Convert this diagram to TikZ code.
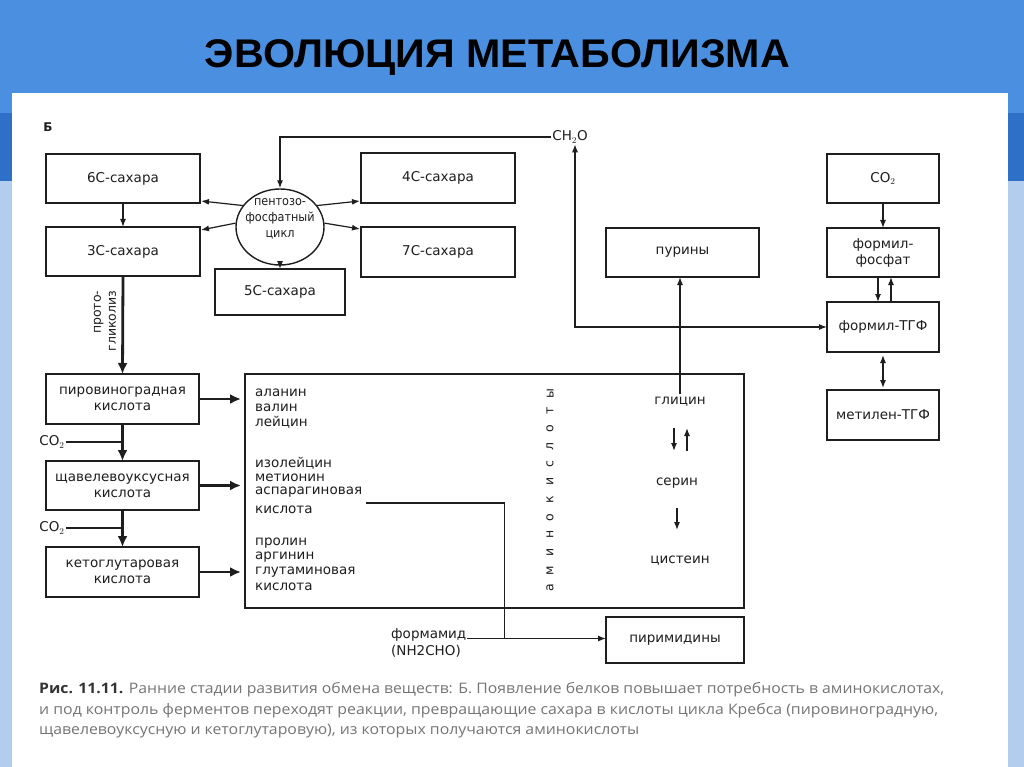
\documentclass[tikz,border=0pt]{standalone}
\usepackage{fontspec}
\usepackage{graphicx}
\setmainfont{DejaVu Sans}
\newfontfamily\condfont[FakeStretch=0.9]{DejaVu Sans}
\newfontfamily\titlefont{Liberation Sans}
\newfontfamily\capfont{Open Sans}
\usetikzlibrary{arrows.meta,shapes.geometric,calc}
\definecolor{band}{HTML}{4A8FE0}
\definecolor{banddark}{HTML}{2E6FC8}
\definecolor{bandlight}{HTML}{B3CDEE}
\definecolor{ink}{HTML}{1E1E1E}
\definecolor{captxt}{HTML}{757575}
\definecolor{capdark}{HTML}{333333}
\newcommand{\lbl}{\fontsize{13.5}{16}\selectfont}
\begin{document}
\begin{tikzpicture}[x=1pt,y=-1pt,
  box/.style={draw=ink,line width=1.4pt,inner sep=0pt,outer sep=0pt,font=\lbl,text=ink,align=center},
  lst/.style={anchor=west,inner sep=0pt,font=\lbl,text=ink},
  txt/.style={inner sep=1pt,font=\lbl,text=ink,align=center},
  arr/.style={draw=ink,line width=1.2pt,-{Latex[length=8pt,width=6pt]}},
  darr/.style={draw=ink,line width=1.2pt,{Latex[length=8pt,width=6pt]}-{Latex[length=8pt,width=6pt]}},
  thk/.style={draw=ink,line width=2.8pt,-{Latex[length=11pt,width=10pt]}},
  thkline/.style={draw=ink,line width=2.8pt}]
\useasboundingbox (0,0) rectangle (1024,767);
% background
\fill[bandlight] (0,0) rectangle (1024,767);
\fill[banddark] (0,113) rectangle (1024,181);
\fill[band] (0,0) rectangle (1024,113);
\fill[white] (12,93) rectangle (1008,767);
% title
\node[inner sep=0pt,font=\titlefont\bfseries\fontsize{40}{40}\selectfont] (title) at (497.5,58) {\resizebox{585pt}{\height}{ЭВОЛЮЦИЯ МЕТАБОЛИЗМА}};
\node[txt,font=\fontsize{12}{14}\selectfont\bfseries] (B) at (48,127) {Б};
% sugars
\node[box,minimum width=154,minimum height=49] (b6) at (123,178.5) {6С-сахара};
\node[box,minimum width=154,minimum height=49] (b3) at (123,251.5) {3С-сахара};
\node[box,minimum width=154,minimum height=50] (b4) at (438,178) {4С-сахара};
\node[box,minimum width=154,minimum height=50] (b7) at (438,252) {7С-сахара};
\node[box,minimum width=130,minimum height=46] (b5) at (280,292) {5С-сахара};
\node[draw=ink,line width=1.4pt,ellipse,minimum width=88,minimum height=76,inner sep=0pt] (ell) at (280,227) {};
\node[txt,font=\condfont\fontsize{12.5}{16}\selectfont] (ellt) at (280,218.5) {пентозо-\\фосфатный\\цикл};
\node[txt] (ch2o) at (570,137) {CH$_2$O};
% right column
\node[box,minimum width=112,minimum height=49] (co2r) at (883,178.5) {CO$_2$};
\node[box,minimum width=112,minimum height=49] (ff) at (883,252.5) {формил-\\фосфат};
\node[box,minimum width=112,minimum height=50] (ftgf) at (883,327) {формил-ТГФ};
\node[box,minimum width=112,minimum height=50] (mtgf) at (883,415) {метилен-ТГФ};
\node[box,minimum width=153,minimum height=49] (pur) at (682.5,252.5) {пурины};
% acids
\node[box,minimum width=153,minimum height=50] (pir) at (122.5,399) {пировиноградная\\кислота};
\node[box,minimum width=153,minimum height=49] (shch) at (122.5,485.5) {щавелевоуксусная\\кислота};
\node[box,minimum width=153,minimum height=50] (keto) at (122.5,572) {кетоглутаровая\\кислота};
\node[txt] (co2a) at (52,442) {CO$_2$};
\node[txt] (co2b) at (52,528) {CO$_2$};
\node[txt,rotate=90,align=right,font=\fontsize{12.5}{15}\selectfont] (glyk) at (105,321) {прото-\\гликолиз};
% amino acid box
\node[box,minimum width=499,minimum height=234] (amino) at (494.5,491) {};
\node[lst] (a1) at (255,393) {аланин};
\node[lst] (a2) at (255,407.5) {валин};
\node[lst] (a3) at (255,422) {лейцин};
\node[lst] (a4) at (255,463) {изолейцин};
\node[lst] (a5) at (255,477.5) {метионин};
\node[lst] (asp) at (255,492) {аспарагиновая};
\node[lst] (a7) at (255,510) {кислота};
\node[lst] (a8) at (255,543) {пролин};
\node[lst] (a9) at (255,557.5) {аргинин};
\node[lst] (a10) at (255,572) {глутаминовая};
\node[lst] (a11) at (255,587) {кислота};
\foreach \l [count=\i] in {а,м,и,н,о,к,и,с,л,о,т,ы}
  \node[inner sep=0pt,rotate=90,font=\fontsize{12.5}{13}\selectfont,text=ink] (am\i) at (550,{588-(\i-1)*17.7}) {\l};
\node[txt,inner sep=3pt] (gly) at (680,402) {глицин};
\node[txt] (ser) at (677,483) {серин};
\node[txt] (cys) at (680,561) {цистеин};
\node[box,minimum width=138,minimum height=46] (pyr) at (675,640) {пиримидины};
\node[lst,anchor=base west] (form1) at (391,638.5) {формамид};
\node[lst] (form2) at (391,651.5) {(NH2CHO)};
% connectors: sugars
\draw[arr] (b6.south) -- (b3.north);
\draw[arr] (ell.150) -- ($(b6.south east)+(1,-2)$);
\draw[arr] (ell.175) -- ($(b3.north east)+(1,3)$);
\draw[arr] (ell.30) -- ($(b4.south west)+(-1,-2)$);
\draw[arr] (ell.5) -- ($(b7.north west)+(-1,2)$);
\draw[arr] ($(ell.south)+(0,-5)$) -- (b5.north);
\draw[arr] (ch2o.west) -| (ell.north);
\draw[darr] ($(ch2o.south)+(5,0)$) |- (ftgf.west);
% right column
\draw[arr] (co2r.south) -- (ff.north);
\draw[arr] ($(ff.south)+(-5,0)$) -- ($(ftgf.north)+(-5,0)$);
\draw[arr] ($(ftgf.north)+(8,0)$) -- ($(ff.south)+(8,0)$);
\draw[darr,shorten <=3pt,shorten >=2pt] (ftgf.south) -- (mtgf.north);
\draw[arr] (gly.north) -- (gly.north |- pur.south);
% left column
\draw[thk] (b3.south) -- (pir.north);
\draw[thk] (pir.south) -- (shch.north);
\draw[thk] (shch.south) -- (keto.north);
\draw[thkline] (co2a.east) -- (co2a.east -| pir.south);
\draw[thkline] (co2b.east) -- (co2b.east -| shch.south);
\draw[thk,shorten >=4pt] (pir.east) -- (pir.east -| amino.west);
\draw[thk,shorten >=4pt] (shch.east) -- (shch.east -| amino.west);
\draw[thk,shorten >=4pt] (keto.east) -- (keto.east -| amino.west);
% amino acid interconversions
\draw[arr] ($(gly.center)+(-6,26)$) -- ($(gly.center)+(-6,49)$);
\draw[arr] ($(gly.center)+(7,49)$) -- ($(gly.center)+(7,26)$);
\draw[arr] ($(ser.center)+(0,25)$) -- ($(ser.center)+(0,47)$);
% aspartate / formamide to pyrimidines
\coordinate (aspend) at ($(asp.east)+(4,11)$);
\coordinate (jn) at ($(form1.base east)+(38,0)$);
\draw[draw=ink,line width=1.2pt] (aspend) -| (jn);
\draw[arr] (form1.base east) -- (pyr.west |- form1.base east);
% caption
\node[anchor=west,inner sep=0pt,font=\capfont\fontsize{14.5}{16}\selectfont,text=captxt] (cap1) at (39,690) {\resizebox{905pt}{\height}{\textcolor{capdark}{\bfseries Рис. 11.11.} Ранние стадии развития обмена веществ: Б. Появление белков повышает потребность в аминокислотах,}};
\node[anchor=west,inner sep=0pt,font=\capfont\fontsize{14.5}{16}\selectfont,text=captxt] (cap2) at (39,711) {\resizebox{899pt}{\height}{и под контроль ферментов переходят реакции, превращающие сахара в кислоты цикла Кребса (пировиноградную,}};
\node[anchor=west,inner sep=0pt,font=\capfont\fontsize{14.5}{16}\selectfont,text=captxt] (cap3) at (39,731) {\resizebox{600pt}{\height}{щавелевоуксусную и кетоглутаровую), из которых получаются аминокислоты}};
\end{tikzpicture}
\end{document}
